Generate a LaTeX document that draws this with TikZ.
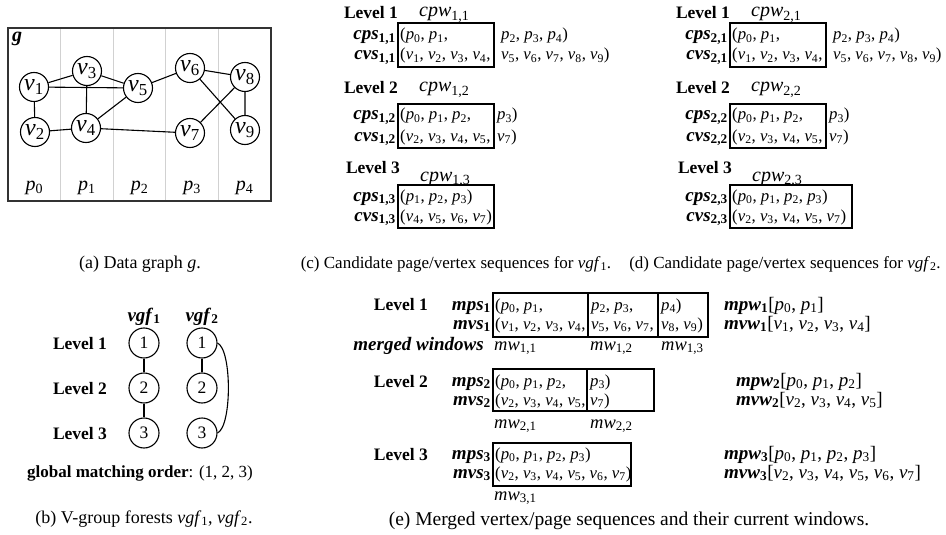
\documentclass[tikz,border=0pt]{standalone}
\usepackage{fontspec}
\setmainfont{Liberation Serif}
\usetikzlibrary{positioning}

\newcommand\fs[1]{\fontsize{#1}{#1}\selectfont}
\newcommand\pp[1]{\textit{p}\textsubscript{#1}}
\newcommand\vv[1]{\textit{v}\textsubscript{#1}}
\newcommand\isub[2]{\textit{#1}\textsubscript{#2}}
\newcommand\bsub[2]{\textbf{\textit{#1}\textsubscript{\upshape #2}}}

\begin{document}
\begin{tikzpicture}[x=1pt,y=-1pt,
    seq/.style={font=\fs{16.8},inner sep=0pt,anchor=base west},
    lab/.style={font=\fs{19},inner sep=0pt,anchor=base east},
    lvl/.style={font=\fs{17.5}\bfseries,inner sep=0pt,anchor=base},
    wlab/.style={font=\fs{20},inner sep=0pt,anchor=base west},
    mwl/.style={font=\fs{18.5},inner sep=0pt,anchor=base west},
    captext/.style={font=\fs{17},inner sep=0pt,anchor=base},
    vtx/.style={draw,circle,line width=1.1pt,minimum size=29pt,inner sep=0pt,fill=white,font=\fs{24}},
    grp/.style={draw,circle,line width=1.1pt,minimum size=30pt,inner sep=0pt,font=\fs{17.5}},
    seqbox/.style={line width=1.3pt},
    link/.style={line width=1.1pt}]
\useasboundingbox (0,0) rectangle (946,535);

% (a) data graph
\draw[black!18,line width=0.8pt] \foreach \x in {60.6,113.2,165.8,218.4} {(\x,28) -- (\x,201)};
\draw[black!80,line width=1.3pt] (8,28) rectangle (271,201);
\node[inner sep=0pt,anchor=base west,font=\fs{20}\bfseries\itshape] (gname) at (12,42) {g};
\node[vtx] (v1) at (34,87) {\vv1};
\node[vtx] (v2) at (35,132) {\vv2};
\node[vtx] (v3) at (87,71) {\vv3};
\node[vtx] (v4) at (86,128) {\vv4};
\node[vtx] (v5) at (138,88) {\vv5};
\node[vtx] (v6) at (190,68) {\vv6};
\node[vtx] (v7) at (190,133) {\vv7};
\node[vtx] (v8) at (245,77) {\vv8};
\node[vtx] (v9) at (245,130) {\vv9};
\draw[link] (v1) -- (v3) (v1) -- (v5) (v1) -- (v2) (v3) -- (v5) (v3) -- (v4)
  (v4) -- (v5) (v2) -- (v4) (v4) -- (v7) (v5) -- (v6) (v6) -- (v8)
  (v6) -- (v9) (v8) -- (v7) (v8) -- (v9);
\foreach \i/\x in {0/34.3,1/86.9,2/139.5,3/192.1,4/244.7}
  \node[inner sep=0pt,anchor=base,font=\fs{20}] (p\i) at (\x,190) {\pp\i};
\node[captext,font=\fs{18}] (capa) at (140,268) {(a) Data graph \textit{g}.};

% (b) v-group forests
\node[lvl] (blv1) at (80,349) {Level 1};
\node[lvl] (blv2) at (80,394) {Level 2};
\node[lvl] (blv3) at (80,439) {Level 3};
\node[inner sep=0pt,anchor=base,font=\fs{19}] (f1) at (144,321) {\bsub{vgf}{1}};
\node[inner sep=0pt,anchor=base,font=\fs{19}] (f2) at (202,321) {\bsub{vgf}{2}};
\node[grp] (a1) at (144,343) {1};
\node[grp] (a2) at (144,388) {2};
\node[grp] (a3) at (144,433) {3};
\node[grp] (b1) at (202,343) {1};
\node[grp] (b2) at (202,388) {2};
\node[grp] (b3) at (202,433) {3};
\draw[link] (a1) -- (a2) -- (a3) (b1) -- (b2);
\draw[link] (b1.east) .. controls (232,350) and (232,426) .. (b3.east);
\node[inner sep=0pt,anchor=base,font=\fs{17}] (gmo) at (140,477) {\textbf{global matching order}: (1, 2, 3)};
\node[captext,font=\fs{18}] (capb) at (144,523) {(b) V-group forests \isub{vgf}{1}, \isub{vgf}{2}.};

% (c) candidate sequences for vgf1
\node[lvl] (c1lv) at (371,19) {Level 1};
\node[wlab] (c1w) at (419,17) {\isub{cpw}{1,1}};
\node[lab] (c1ps) at (396,40) {\bsub{cps}{1,1}};
\node[lab] (c1vs) at (396,60) {\bsub{cvs}{1,1}};
\draw[seqbox] (398,23) rectangle (494,67);
\node[seq] (c1pa) at (400,40) {(\pp0, \pp1,};
\node[seq] (c1pb) at (501,40) {\pp2, \pp3, \pp4)};
\node[seq] (c1va) at (400,60) {(\vv1, \vv2, \vv3, \vv4,};
\node[seq] (c1vb) at (501,60) {\vv5, \vv6, \vv7, \vv8, \vv9)};

\node[lvl] (c2lv) at (371,94) {Level 2};
\node[wlab] (c2w) at (419,92) {\isub{cpw}{1,2}};
\node[lab] (c2ps) at (396,120) {\bsub{cps}{1,2}};
\node[lab] (c2vs) at (396,141) {\bsub{cvs}{1,2}};
\draw[seqbox] (398,104) rectangle (494,148);
\node[seq] (c2pa) at (400,120) {(\pp0, \pp1, \pp2,};
\node[seq] (c2pb) at (497,120) {\pp3)};
\node[seq] (c2va) at (400,141) {(\vv2, \vv3, \vv4, \vv5,};
\node[seq] (c2vb) at (497,141) {\vv7)};

\node[lvl] (c3lv) at (373,173) {Level 3};
\node[wlab] (c3w) at (420,181) {\isub{cpw}{1,3}};
\node[lab] (c3ps) at (396,201) {\bsub{cps}{1,3}};
\node[lab] (c3vs) at (396,221) {\bsub{cvs}{1,3}};
\draw[seqbox] (398,185) rectangle (494,228);
\node[seq] (c3pa) at (400,201) {(\pp1, \pp2, \pp3)};
\node[seq] (c3va) at (400,221) {(\vv4, \vv5, \vv6, \vv7)};
\node[captext] (capc) at (456,268) {(c) Candidate page/vertex sequences for \isub{vgf}{1}.};

% (d) candidate sequences for vgf2
\node[lvl] (d1lv) at (703,19) {Level 1};
\node[wlab] (d1w) at (751,17) {\isub{cpw}{2,1}};
\node[lab] (d1ps) at (728,40) {\bsub{cps}{2,1}};
\node[lab] (d1vs) at (728,60) {\bsub{cvs}{2,1}};
\draw[seqbox] (730,23) rectangle (826,67);
\node[seq] (d1pa) at (732,40) {(\pp0, \pp1,};
\node[seq] (d1pb) at (833,40) {\pp2, \pp3, \pp4)};
\node[seq] (d1va) at (732,60) {(\vv1, \vv2, \vv3, \vv4,};
\node[seq] (d1vb) at (833,60) {\vv5, \vv6, \vv7, \vv8, \vv9)};

\node[lvl] (d2lv) at (703,94) {Level 2};
\node[wlab] (d2w) at (751,92) {\isub{cpw}{2,2}};
\node[lab] (d2ps) at (728,120) {\bsub{cps}{2,2}};
\node[lab] (d2vs) at (728,141) {\bsub{cvs}{2,2}};
\draw[seqbox] (730,104) rectangle (826,148);
\node[seq] (d2pa) at (732,120) {(\pp0, \pp1, \pp2,};
\node[seq] (d2pb) at (829,120) {\pp3)};
\node[seq] (d2va) at (732,141) {(\vv2, \vv3, \vv4, \vv5,};
\node[seq] (d2vb) at (829,141) {\vv7)};

\node[lvl] (d3lv) at (705,173) {Level 3};
\node[wlab] (d3w) at (752,181) {\isub{cpw}{2,3}};
\node[lab] (d3ps) at (728,201) {\bsub{cps}{2,3}};
\node[lab] (d3vs) at (728,221) {\bsub{cvs}{2,3}};
\draw[seqbox] (730,185) rectangle (852,228);
\node[seq] (d3pa) at (732,201) {(\pp0, \pp1, \pp2, \pp3)};
\node[seq] (d3va) at (732,221) {(\vv2, \vv3, \vv4, \vv5, \vv7)};
\node[captext] (capd) at (785,268) {(d) Candidate page/vertex sequences for \isub{vgf}{2}.};

% (e) merged sequences and windows
\node[lvl,anchor=base east] (e1lv) at (428,310) {Level 1};
\node[lab] (e1ps) at (491,310) {\bsub{mps}{1}};
\node[lab] (e1vs) at (491,329) {\bsub{mvs}{1}};
\draw[seqbox] (493,293) rectangle (708,337) (588,293) -- (588,337) (658,293) -- (658,337);
\node[seq] (e1pa) at (495,310) {(\pp0, \pp1,};
\node[seq] (e1pb) at (591,310) {\pp2, \pp3,};
\node[seq] (e1pc) at (661,310) {\pp4)};
\node[seq] (e1va) at (495,329) {(\vv1, \vv2, \vv3, \vv4,};
\node[seq] (e1vb) at (591,329) {\vv5, \vv6, \vv7,};
\node[seq] (e1vc) at (661,329) {\vv8, \vv9)};
\node[lab] (mwname) at (484,350) {\textbf{\textit{merged windows}}};
\node[mwl] (mw11) at (494,350) {\isub{mw}{1,1}};
\node[mwl] (mw12) at (590,350) {\isub{mw}{1,2}};
\node[mwl] (mw13) at (661,350) {\isub{mw}{1,3}};

\node[lvl,anchor=base east] (e2lv) at (428,387) {Level 2};
\node[lab] (e2ps) at (491,386) {\bsub{mps}{2}};
\node[lab] (e2vs) at (491,405) {\bsub{mvs}{2}};
\draw[seqbox] (493,369) rectangle (654,411) (587,369) -- (587,411);
\node[seq] (e2pa) at (495,386) {(\pp0, \pp1, \pp2,};
\node[seq] (e2pb) at (590,386) {\pp3)};
\node[seq] (e2va) at (495,405) {(\vv2, \vv3, \vv4, \vv5,};
\node[seq] (e2vb) at (590,405) {\vv7)};
\node[mwl] (mw21) at (494,428) {\isub{mw}{2,1}};
\node[mwl] (mw22) at (590,428) {\isub{mw}{2,2}};

\node[lvl,anchor=base east] (e3lv) at (428,460) {Level 3};
\node[lab] (e3ps) at (491,459) {\bsub{mps}{3}};
\node[lab] (e3vs) at (491,478) {\bsub{mvs}{3}};
\draw[seqbox] (493,443) rectangle (631,486);
\node[seq] (e3pa) at (495,459) {(\pp0, \pp1, \pp2, \pp3)};
\node[seq] (e3va) at (495,478) {(\vv2, \vv3, \vv4, \vv5, \vv6, \vv7)};
\node[mwl] (mw31) at (494,500) {\isub{mw}{3,1}};

\node[seq,font=\fs{19}] (w1p) at (724,310) {\bsub{mpw}{1}[\pp0, \pp1]};
\node[seq,font=\fs{19}] (w1v) at (724,329) {\bsub{mvw}{1}[\vv1, \vv2, \vv3, \vv4]};
\node[seq,font=\fs{19}] (w2p) at (736,386) {\bsub{mpw}{2}[\pp0, \pp1, \pp2]};
\node[seq,font=\fs{19}] (w2v) at (736,405) {\bsub{mvw}{2}[\vv2, \vv3, \vv4, \vv5]};
\node[seq,font=\fs{19}] (w3p) at (724,459) {\bsub{mpw}{3}[\pp0, \pp1, \pp2, \pp3]};
\node[seq,font=\fs{19}] (w3v) at (724,478) {\bsub{mvw}{3}[\vv2, \vv3, \vv4, \vv5, \vv6, \vv7]};
\node[captext,font=\fs{19.5}] (cape) at (629,525) {(e) Merged vertex/page sequences and their current windows.};
\end{tikzpicture}
\end{document}
